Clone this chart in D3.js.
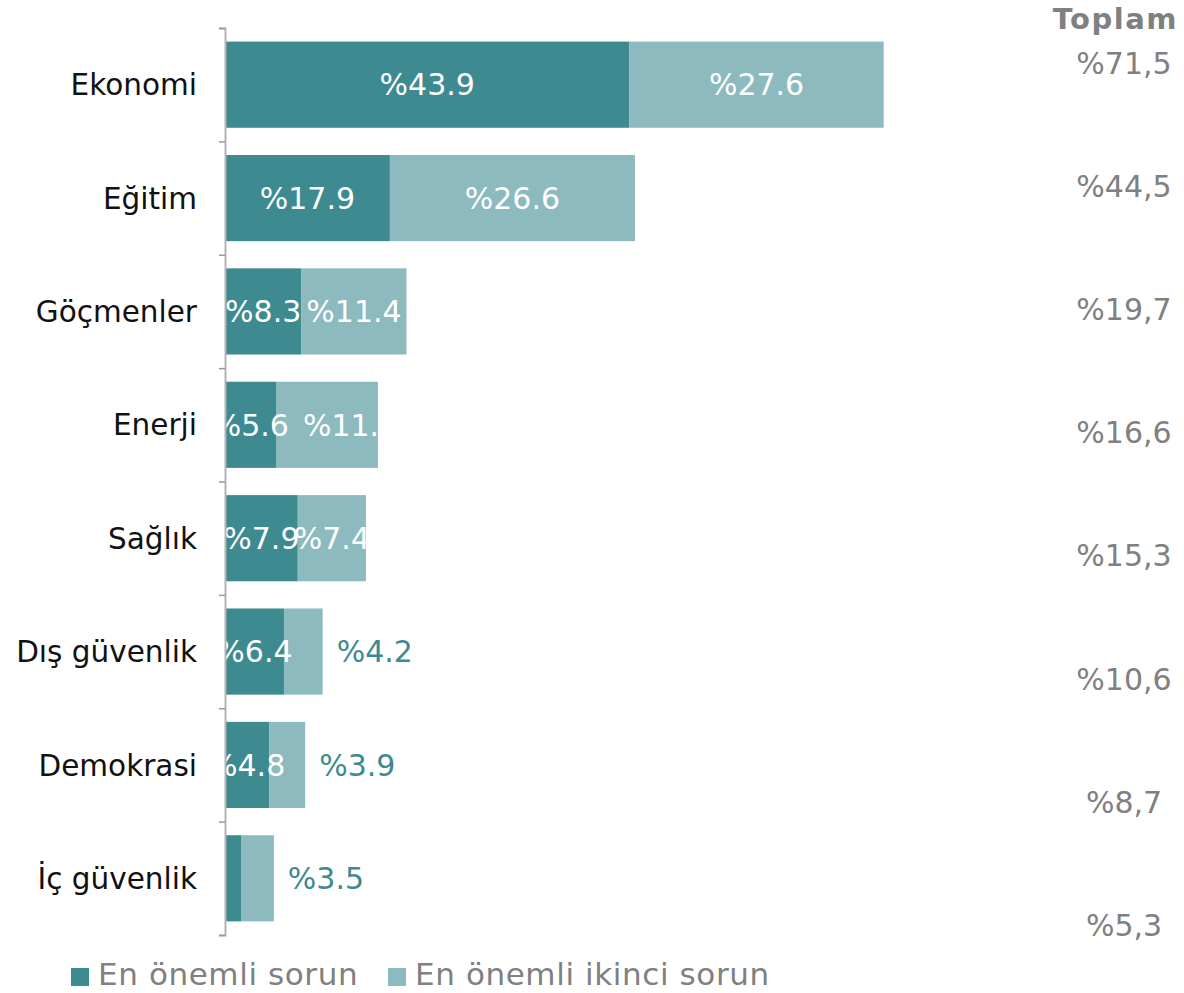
<!DOCTYPE html>
<html lang="tr">
<head>
<meta charset="UTF-8">
<title>Sorunlar</title>
<style>
  body { margin: 0; background: #fff; }
  svg text { font-family: "DejaVu Sans", Verdana, sans-serif; }
</style>
</head>
<body>
<svg width="1184" height="993"></svg>
<script src="https://cdnjs.cloudflare.com/ajax/libs/d3/7.8.5/d3.min.js"></script>
<script>
// veriler
const categories = ['Ekonomi', 'Eğitim', 'Göçmenler', 'Enerji', 'Sağlık', 'Dış güvenlik', 'Demokrasi', 'İç güvenlik'];
const firstIssue = [43.9, 17.9, 8.3, 5.6, 7.9, 6.4, 4.8, 1.8];
const secondIssue = [27.6, 26.6, 11.4, 11.0, 7.4, 4.2, 3.9, 3.5];
const totals = ['%71,5', '%44,5', '%19,7', '%16,6', '%15,3', '%10,6', '%8,7', '%5,3'];
const seriesNames = ['En önemli sorun', 'En önemli ikinci sorun'];

const dark = '#3d8a90';
const light = '#8cbabe';
const gray = '#808080';
const fs = 30;

const svg = d3.select('svg');

const x = d3.scaleLinear().domain([0, 80]).range([225, 962]);
const y = d3.scaleBand().domain(categories).range([28, 935])
  .paddingInner(0.24).paddingOuter(0.12);
const yTot = d3.scalePoint().domain(categories).range([63, 925]);

const rows = categories.map((c, i) => ({
  cat: c,
  a: firstIssue[i],
  b: secondIssue[i],
  total: totals[i]
}));

// her bar için clip (etiket taşmasını keser)
const defs = svg.append('defs');
rows.forEach((d, i) => {
  defs.append('clipPath').attr('id', 'clip' + i)
    .append('rect')
    .attr('x', x(0))
    .attr('y', y(d.cat))
    .attr('width', x(d.a + d.b) - x(0))
    .attr('height', y.bandwidth());
});

const g = svg.append('g');

// koyu parçalar
g.selectAll('rect.a').data(rows).enter().append('rect')
  .attr('class', 'a')
  .attr('x', x(0))
  .attr('y', d => y(d.cat))
  .attr('width', d => x(d.a) - x(0))
  .attr('height', y.bandwidth())
  .attr('fill', dark);

// açık parçalar
g.selectAll('rect.b').data(rows).enter().append('rect')
  .attr('class', 'b')
  .attr('x', d => x(d.a))
  .attr('y', d => y(d.cat))
  .attr('width', d => x(d.a + d.b) - x(d.a))
  .attr('height', y.bandwidth())
  .attr('fill', light);

// etiketler
rows.forEach((d, i) => {
  const cy = y(d.cat) + y.bandwidth() / 2;
  const lg = g.append('g').attr('clip-path', 'url(#clip' + i + ')');
  let darkRight = x(0);
  if (d.a >= 4) {
    const t = lg.append('text')
      .attr('x', (x(0) + x(d.a)) / 2)
      .attr('y', cy)
      .attr('dy', '0.36em')
      .attr('text-anchor', 'middle')
      .attr('font-size', fs)
      .attr('fill', '#fff')
      .text('%' + d.a.toFixed(1));
    const bb = t.node().getBBox();
    darkRight = bb.x + bb.width;
  }
  if (d.b >= 5) {
    const t = lg.append('text')
      .attr('x', (x(d.a) + x(d.a + d.b)) / 2)
      .attr('y', cy)
      .attr('dy', '0.36em')
      .attr('text-anchor', 'middle')
      .attr('font-size', fs)
      .attr('fill', '#fff')
      .text('%' + d.b.toFixed(1));
    // çok çakışırsa sağa kaydır
    const bb = t.node().getBBox();
    if (darkRight - bb.x > 6) {
      t.attr('text-anchor', 'start').attr('x', darkRight + 14);
    }
  } else {
    g.append('text')
      .attr('x', x(d.a + d.b) + 14)
      .attr('y', cy)
      .attr('dy', '0.36em')
      .attr('text-anchor', 'start')
      .attr('font-size', fs)
      .attr('fill', dark)
      .text('%' + d.b.toFixed(1));
  }
});

// eksen
const idx = d3.scaleLinear().domain([0, categories.length]).range(y.range());
const axis = svg.append('g')
  .attr('transform', 'translate(' + x(0) + ',0)')
  .call(d3.axisLeft(idx).tickValues(d3.range(categories.length + 1)).tickSize(6).tickFormat(''));
axis.select('.domain').attr('stroke', '#b3b3b3').attr('stroke-width', 2);
axis.selectAll('.tick line').attr('stroke', '#999').attr('stroke-width', 1.5);

// kategori etiketleri
svg.append('g').selectAll('text').data(categories).enter().append('text')
  .attr('x', 197)
  .attr('y', d => y(d) + y.bandwidth() / 2)
  .attr('dy', '0.36em')
  .attr('text-anchor', 'end')
  .attr('font-size', 29.5)
  .attr('fill', '#111')
  .text(d => d);

// toplam sütunu
svg.append('text')
  .attr('x', 1178)
  .attr('y', 29)
  .attr('text-anchor', 'end')
  .attr('font-size', 29)
  .attr('font-weight', 'bold')
  .attr('letter-spacing', 1.5)
  .attr('fill', gray)
  .text('Toplam');

svg.append('g').selectAll('text').data(rows).enter().append('text')
  .attr('x', 1124)
  .attr('y', d => yTot(d.cat))
  .attr('dy', '0.36em')
  .attr('text-anchor', 'middle')
  .attr('font-size', fs)
  .attr('fill', gray)
  .text(d => d.total);

// lejant
const legend = svg.append('g').attr('transform', 'translate(71,985)');
const lx = [0, 317];
seriesNames.forEach((name, i) => {
  legend.append('rect')
    .attr('x', lx[i]).attr('y', -17)
    .attr('width', 18).attr('height', 18)
    .attr('fill', i === 0 ? dark : light);
  legend.append('text')
    .attr('x', lx[i] + 27)
    .attr('y', 0)
    .attr('font-size', 31)
    .attr('letter-spacing', 0.6)
    .attr('fill', gray)
    .text(name);
});
</script>
</body>
</html>
